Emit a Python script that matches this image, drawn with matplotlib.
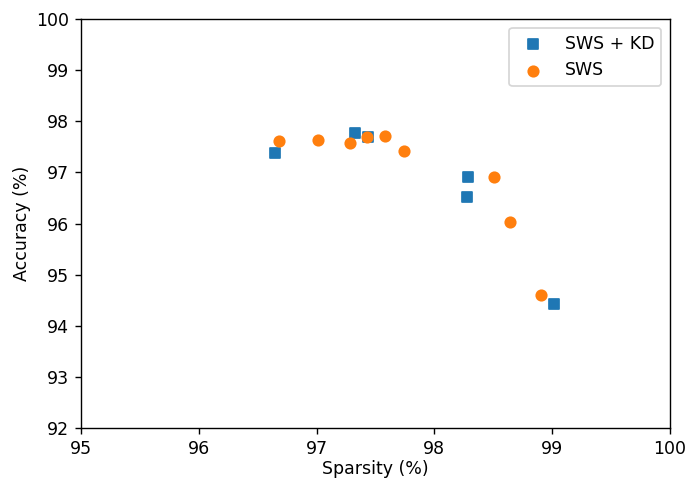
import numpy as np
import matplotlib
matplotlib.use("Agg")
import matplotlib.pyplot as plt

# SWS + KD runs
kd_sparsity = [96.65, 97.33, 97.44, 98.29, 98.28, 99.02]
kd_accuracy = [97.38, 97.77, 97.69, 96.91, 96.52, 94.43]

# SWS runs
sws_sparsity = [96.68, 97.01, 97.28, 97.43, 97.58, 97.74, 98.51, 98.64, 98.91]
sws_accuracy = [97.61, 97.63, 97.58, 97.69, 97.71, 97.42, 96.91, 96.03, 94.60]

fig = plt.figure(figsize=(6.87 / 1.25, 4.81 / 1.25), dpi=125)
ax = fig.add_axes([0.118, 0.110, 0.857, 0.8505])

ax.scatter(kd_sparsity, kd_accuracy, marker="s", label="SWS + KD")
ax.scatter(sws_sparsity, sws_accuracy, marker="o", label="SWS")

ax.set_xlim(95, 100)
ax.set_ylim(92, 100)
ax.set_xlabel("Sparsity (%)", labelpad=1)
ax.set_ylabel("Accuracy (%)", labelpad=3)
ax.legend(loc="upper right")

fig.savefig("out.png", dpi=125)
